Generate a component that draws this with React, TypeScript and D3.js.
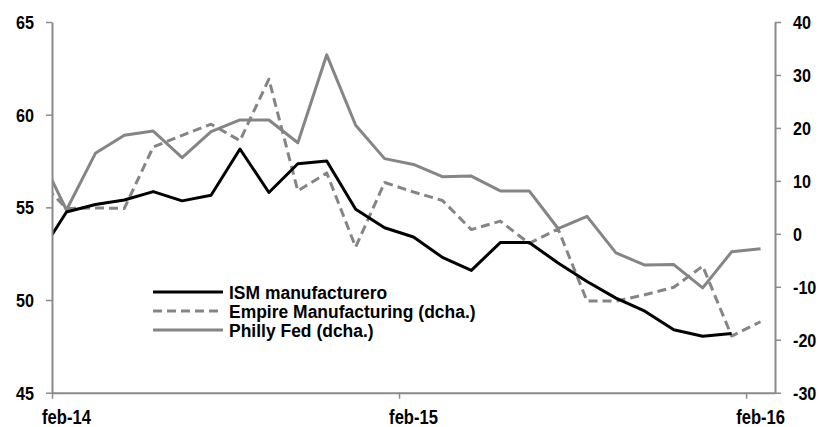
import { useEffect, useRef } from 'react';
import * as d3 from 'd3';

// Monthly data, jan-14 .. feb-16 (jan-14 sits just left of the plot and is clipped)
const MONTHS = [
  'ene-14', 'feb-14', 'mar-14', 'abr-14', 'may-14', 'jun-14', 'jul-14', 'ago-14', 'sep-14', 'oct-14', 'nov-14', 'dic-14',
  'ene-15', 'feb-15', 'mar-15', 'abr-15', 'may-15', 'jun-15', 'jul-15', 'ago-15', 'sep-15', 'oct-15', 'nov-15', 'dic-15',
  'ene-16', 'feb-16',
];
const ISM: (number | null)[] = [
  52.3, 54.75, 55.15, 55.4, 55.85, 55.35, 55.65, 58.15, 55.8, 57.35, 57.5, 54.9, 53.9,
  53.4, 52.3, 51.6, 53.1, 53.1, 52.0, 51.0, 50.1, 49.4, 48.4, 48.05, 48.2, null,
];
const EMPIRE = [
  10.4, 4.8, 4.9, 4.8, 16.4, 18.6, 20.7, 17.6, 29.2, 8.1, 11.5, -2.5, 9.7,
  7.9, 6.3, 0.8, 2.4, -1.8, 0.9, -12.7, -12.7, -11.5, -10.1, -6.1, -19.3, -16.6,
];
const PHILLY = [
  15.8, 4.5, 15.2, 18.6, 19.4, 14.4, 19.3, 21.5, 21.5, 17.2, 33.8, 20.5, 14.2,
  13.1, 10.8, 10.9, 8.1, 8.1, 1.0, 3.3, -3.6, -5.9, -5.8, -10.2, -3.4, -2.8,
];
const X_LABELS = ['feb-14', 'feb-15', 'feb-16'];
const LEFT_TICKS = [45, 50, 55, 60, 65];
const RIGHT_TICKS = [-30, -20, -10, 0, 10, 20, 30, 40];
const LEGEND = ['ISM manufacturero', 'Empire Manufacturing (dcha.)', 'Philly Fed (dcha.)'];

const W = 820;
const H = 427;
const PLOT = { left: 52, right: 775, top: 22, bottom: 392.7 };
const GREY = '#858585';
const AXIS = '#8a8a8a';
const FONT = "'Liberation Sans', Arial, sans-serif";

export default function App() {
  const svgRef = useRef<SVGSVGElement>(null);

  useEffect(() => {
    if (!svgRef.current) return;
    const svg = d3.select(svgRef.current);
    svg.selectAll('*').remove();

    // index -1 = jan-14, 0 = feb-14 ... 24 = feb-16
    const x = d3.scaleLinear().domain([-0.5, 24.5]).range([PLOT.left, PLOT.right]);
    const yL = d3.scaleLinear().domain([45, 65]).range([PLOT.bottom, PLOT.top]);
    const yR = d3.scaleLinear().domain([-30, 40]).range([PLOT.bottom, PLOT.top]);

    svg.append('defs').append('clipPath').attr('id', 'plotclip')
      .append('rect')
      .attr('x', PLOT.left).attr('y', 0)
      .attr('width', PLOT.right - PLOT.left).attr('height', H);

    const idx = (i: number) => i - 1;

    // narrow bold text helper (the original face is a condensed bold)
    const label = (
      g: d3.Selection<SVGGElement, unknown, null, undefined>,
      tx: number, ty: number, txt: string, anchor: string, size: number,
      squeeze = 0.85, dy = '0.36em'
    ) => {
      g.append('text')
        .attr('transform', `translate(${tx},${ty}) scale(${squeeze},1)`)
        .attr('dy', dy)
        .attr('text-anchor', anchor)
        .attr('font-family', FONT)
        .attr('font-weight', 'bold')
        .attr('font-size', `${size}px`)
        .attr('fill', '#000')
        .text(txt);
    };

    // series
    const lines = svg.append('g').attr('clip-path', 'url(#plotclip)');

    const rightLine = d3.line<number>()
      .x((_, i) => x(idx(i)))
      .y((d) => yR(d));

    lines.append('path')
      .datum(PHILLY)
      .attr('d', rightLine)
      .attr('fill', 'none')
      .attr('stroke', GREY)
      .attr('stroke-width', 3)
      .attr('stroke-linejoin', 'round');

    lines.append('path')
      .datum(EMPIRE)
      .attr('d', rightLine)
      .attr('fill', 'none')
      .attr('stroke', GREY)
      .attr('stroke-width', 3)
      .attr('stroke-dasharray', '9,5')
      .attr('stroke-linejoin', 'round');

    const leftLine = d3.line<number | null>()
      .defined((d) => d !== null)
      .x((_, i) => x(idx(i)))
      .y((d) => yL(d as number));

    lines.append('path')
      .datum(ISM)
      .attr('d', leftLine)
      .attr('fill', 'none')
      .attr('stroke', '#000')
      .attr('stroke-width', 3)
      .attr('stroke-linejoin', 'round');

    // axes (lines and ticks from d3, labels drawn narrow)
    const styleAxis = (g: d3.Selection<SVGGElement, unknown, null, undefined>) => {
      g.select('.domain').attr('stroke', AXIS).attr('stroke-width', 2);
      g.selectAll('.tick line').attr('stroke', AXIS).attr('stroke-width', 1.5);
      g.selectAll('.tick text').remove();
    };

    svg.append('g')
      .attr('transform', `translate(${PLOT.left},0)`)
      .call(d3.axisLeft(yL).tickValues(LEFT_TICKS).tickSize(6).tickSizeOuter(0))
      .call(styleAxis);

    svg.append('g')
      .attr('transform', `translate(${PLOT.right},0)`)
      .call(d3.axisRight(yR).tickValues(RIGHT_TICKS).tickSize(6).tickSizeOuter(0))
      .call(styleAxis);

    svg.append('g')
      .attr('transform', `translate(0,${PLOT.bottom})`)
      .call(d3.axisBottom(x).tickValues([-0.5, 11.5, 23.5]).tickSize(6).tickSizeOuter(0))
      .call(styleAxis);

    const labels = svg.append('g');
    LEFT_TICKS.forEach((v) => label(labels, PLOT.left - 18, yL(v), String(v), 'end', 19));
    RIGHT_TICKS.forEach((v) => label(labels, PLOT.right + 18, yR(v), String(v), 'start', 19));
    X_LABELS.forEach((t) => label(labels, x(MONTHS.indexOf(t) - 1), 423.5, t, 'middle', 19.5, 0.85, '0'));

    // legend
    const leg = svg.append('g');
    const rowY = (i: number) => 292 + i * 19;
    const legStyles = [
      { stroke: '#000', dash: null },
      { stroke: GREY, dash: '9,5' },
      { stroke: GREY, dash: null },
    ];
    LEGEND.forEach((txt, i) => {
      leg.append('line')
        .attr('x1', 153).attr('x2', 223)
        .attr('y1', rowY(i)).attr('y2', rowY(i))
        .attr('stroke', legStyles[i].stroke)
        .attr('stroke-width', 3)
        .attr('stroke-dasharray', legStyles[i].dash);
      label(leg, 229, rowY(i), txt, 'start', 19, 0.92);
    });
  }, []);

  return (
    <div style={{ position: 'absolute', left: 0, top: 0, width: W, height: H, background: '#fff' }}>
      <svg ref={svgRef} width={W} height={H} style={{ display: 'block' }} />
    </div>
  );
}
